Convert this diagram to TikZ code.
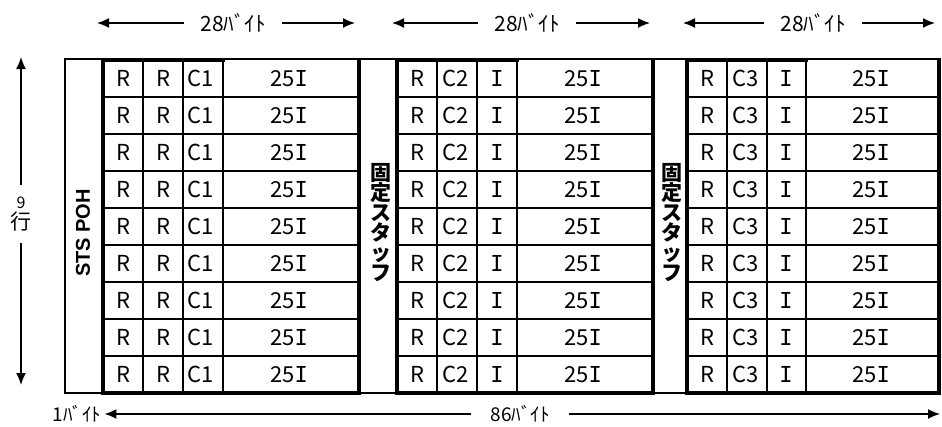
\documentclass[tikz,border=0pt]{standalone}
\usepackage{fontspec}
\setmainfont{Noto Sans CJK JP}
\newfontfamily\serifI{DejaVu Sans Mono}
\newfontfamily\pohfont{Liberation Sans}
\usetikzlibrary{arrows.meta}
\tikzset{arrow/.style={->, >={Latex[length=12pt, width=10pt]}, line width=1.5pt}}
\tikzset{rule/.style={line width=1.6pt}}
\tikzset{frame/.style={line width=4.6pt, line cap=rect}}
\tikzset{cell/.style={font=\fontsize{22}{22}\selectfont, inner sep=0pt}}
\tikzset{dim/.style={font=\fontsize{21}{21}\selectfont}}
\tikzset{side/.style={font=\bfseries\fontsize{21}{20}\selectfont, align=center, inner sep=0pt}}
\newcommand{\capI}{{\serifI I}}

\begin{document}
\begin{tikzpicture}[x=1pt, y=-1pt]
  \useasboundingbox (0,0) rectangle (942,426);

  % byte widths on top
  \node[dim, inner xsep=16pt] (w1) at (233,23) {28ﾊﾞｲﾄ};
  \node[dim, inner xsep=16pt] (w2) at (527,23) {28ﾊﾞｲﾄ};
  \node[dim, inner xsep=16pt] (w3) at (813,23) {28ﾊﾞｲﾄ};
  \coordinate (w1l) at (97,23);
  \coordinate (w1r) at (355,23);
  \coordinate (w2l) at (392,23);
  \coordinate (w2r) at (650,23);
  \coordinate (w3l) at (683,23);
  \coordinate (w3r) at (935,23);
  \draw[arrow] (w1) -- (w1l);
  \draw[arrow] (w1) -- (w1r);
  \draw[arrow] (w2) -- (w2l);
  \draw[arrow] (w2) -- (w2r);
  \draw[arrow] (w3) -- (w3l);
  \draw[arrow] (w3) -- (w3r);

  % cells
  \foreach \r in {0,...,8} {
    \pgfmathsetmacro{\y}{78.5+37*\r}
    \node[cell] (a\r-1) at (123,\y) {R};
    \node[cell] (a\r-2) at (163,\y) {R};
    \node[cell] (a\r-3) at (201,\y) {C1};
    \node[cell] (a\r-4) at (289,\y) {25\capI};
    \node[cell] (b\r-1) at (417,\y) {R};
    \node[cell] (b\r-2) at (456,\y) {C2};
    \node[cell] (b\r-3) at (497,\y) {\capI};
    \node[cell] (b\r-4) at (583,\y) {25\capI};
    \node[cell] (c\r-1) at (707,\y) {R};
    \node[cell] (c\r-2) at (746,\y) {C3};
    \node[cell] (c\r-3) at (786,\y) {\capI};
    \node[cell] (c\r-4) at (871,\y) {25\capI};
  }

  % grid
  \foreach \r in {1,...,8} {
    \draw[rule] (103,{60+37*\r}) -- (359,{60+37*\r});
    \draw[rule] (397,{60+37*\r}) -- (653,{60+37*\r});
    \draw[rule] (687,{60+37*\r}) -- (939,{60+37*\r});
  }
  \foreach \x in {143,183,223,437,477,517,727,767,806}
    \draw[rule] (\x,60) -- (\x,393);

  % POH and fixed stuff columns
  \draw[rule] (103,59) -- (65,59) -- (65,393) -- (103,393);
  \draw[rule] (359,59) -- (397,59);
  \draw[rule] (359,393) -- (397,393);
  \draw[rule] (653,59) -- (687,59);
  \draw[rule] (653,393) -- (687,393);

  % block frames
  \foreach \a/\b/\c in {103/223/359, 397/517/653, 687/806/939} {
    \draw[rule, line width=2.2pt] (\b,59) -- (\c,59);
    \draw[frame] (\b,60) -- (\a,60) -- (\a,393) -- (\c,393) -- (\c,60);
  }

  \node[font=\pohfont\bfseries\fontsize{20}{20}\selectfont, rotate=90] (poh) at (83,233) {STS POH};
  \node[side] (fix1) at (381,223) {固\\定\\ス\\タ\\ッ\\フ};
  \node[side] (fix2) at (672,223) {固\\定\\ス\\タ\\ッ\\フ};

  % rows
  \node[dim, align=center, inner ysep=12pt] (rows) at (21,214)
  {{\fontsize{16}{16}\selectfont 9}\\行};
  \coordinate (rt) at (21,57);
  \coordinate (rb) at (21,385);
  \draw[arrow] (rows) -- (rt);
  \draw[arrow] (rows) -- (rb);

  % total width
  \node[dim, font=\fontsize{19}{19}\selectfont, inner xsep=3pt, inner ysep=0pt] (one) at (77,414) {1ﾊﾞｲﾄ};
  \node[dim, font=\fontsize{19}{19}\selectfont, inner xsep=19pt, inner ysep=0pt] (total) at (520,414) {86ﾊﾞｲﾄ};
  \coordinate (tr) at (940,414);
  \draw[arrow] (total) -- (one);
  \draw[arrow] (total) -- (tr);
\end{tikzpicture}
\end{document}
